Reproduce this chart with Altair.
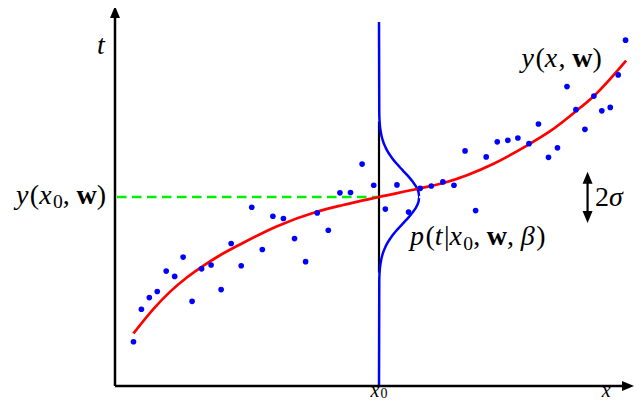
import altair as alt
import pandas as pd

# ---- data ----
pt_x = [0.035, 0.050, 0.065, 0.080, 0.097, 0.113, 0.129, 0.146, 0.164, 0.182,
        0.201, 0.220, 0.239, 0.259, 0.279, 0.299, 0.319, 0.340, 0.361, 0.383,
        0.404, 0.426, 0.446, 0.468, 0.490, 0.512, 0.534, 0.556, 0.578, 0.599,
        0.621, 0.642, 0.663, 0.683, 0.703, 0.724, 0.744, 0.763, 0.784, 0.802,
        0.821, 0.838, 0.856, 0.873, 0.890, 0.907, 0.922, 0.938, 0.953, 0.967]
pt_t = [0.117, 0.203, 0.234, 0.250, 0.304, 0.290, 0.341, 0.224, 0.310, 0.320,
        0.255, 0.377, 0.318, 0.473, 0.361, 0.449, 0.443, 0.390, 0.329, 0.458,
        0.412, 0.511, 0.512, 0.587, 0.531, 0.468, 0.532, 0.460, 0.523, 0.529,
        0.540, 0.531, 0.622, 0.464, 0.606, 0.646, 0.650, 0.656, 0.641, 0.693,
        0.605, 0.630, 0.792, 0.731, 0.679, 0.767, 0.728, 0.737, 0.823, 0.915]

curve_x = [0.035, 0.073, 0.104, 0.136, 0.167, 0.199, 0.243, 0.306, 0.382, 0.432,
           0.500, 0.578, 0.622, 0.717, 0.780, 0.824, 0.873, 0.906, 0.968]
curve_t = [0.139, 0.204, 0.249, 0.287, 0.318, 0.346, 0.379, 0.422, 0.461, 0.479,
           0.500, 0.523, 0.537, 0.588, 0.636, 0.674, 0.727, 0.766, 0.861]

x0 = 0.5
y0 = 0.5
gauss_t = [0.0, 0.28, 0.30, 0.32, 0.335, 0.35, 0.37, 0.38, 0.39, 0.40, 0.41,
           0.42, 0.43, 0.44, 0.45, 0.46, 0.47, 0.48, 0.49, 0.50,
           0.51, 0.52, 0.53, 0.54, 0.55, 0.56, 0.57, 0.58, 0.59, 0.60,
           0.61, 0.62, 0.63, 0.65, 0.665, 0.68, 0.70, 0.72, 0.963]
gauss_w = [0.0, 0.0005, 0.0011, 0.0025, 0.0043, 0.0071, 0.0128, 0.0166, 0.0212,
           0.0264, 0.0323, 0.0387, 0.0453, 0.0520, 0.0584, 0.0642, 0.0691, 0.0729,
           0.0752, 0.0760,
           0.0752, 0.0729, 0.0691, 0.0642, 0.0584, 0.0520, 0.0453, 0.0387, 0.0323,
           0.0264, 0.0212, 0.0166, 0.0128, 0.0071, 0.0043, 0.0025, 0.0011, 0.0005, 0.0]
baseline_t = [0.30, 0.70]

sigma_x = 0.895
sigma_t = [0.447, 0.551]

# axis extents (data units)
x_axis_end = 0.975
x_head_pos = 0.9716
y_axis_end = 0.99
y_head_pos = 0.9894

# labels: pieces of (text, kind); kind i=italic, r=upright, b=bold, s=subscript, g=gap
# each entry: pieces, anchor x, anchor t (baseline), align, font size, subscript drop (px)
labels = [
    ([("t", "i")], -0.0256, 0.878, "center", 28, 4.5),
    ([("y", "i"), ("(", "r"), ("x", "i"), ("0", "s"), (",", "r"), ("", "g"), ("w", "b"), (")", "r")],
     -0.017, 0.4815, "right", 28, 4.5),
    ([("y", "i"), ("(", "r"), ("x", "i"), (",", "r"), ("", "g"), ("w", "b"), (")", "r")],
     0.922, 0.844, "right", 28, 4.5),
    ([("p", "i"), ("(", "r"), ("t", "i"), ("|", "r"), ("x", "i"), ("0", "s"), (",", "r"), ("", "g"),
      ("w", "b"), (",", "r"), ("", "g"), ("β", "i"), (")", "r")],
     0.5587, 0.3717, "left", 28, 4.5),
    ([("2", "r"), ("σ", "i")], 0.909, 0.4749, "left", 28, 4.5),
    ([("x", "i"), ("0", "s")], 0.5, -0.0278, "center", 20, 1.3),
    ([("x", "i")], 0.931, -0.0278, "center", 20, 1.3),
]

# ---- scales ----
PX_X = 528.0
PX_T = 378.0
xs = alt.Scale(domain=[0, 1], range=[107, 635], nice=False, zero=False)
ys = alt.Scale(domain=[0, 1], range=[378, 0], nice=False, zero=False)

def X(f="x"):
    return alt.X(f"{f}:Q", scale=xs, axis=None)

def Y(f="t"):
    return alt.Y(f"{f}:Q", scale=ys, axis=None)

# ---- text layout (Liberation Serif advance widths, em) ----
SUB = 0.7
W_IT = {"t": 0.278, "y": 0.444, "x": 0.444, "p": 0.5, "β": 0.5, "σ": 0.5}
W_RG = {"(": 0.333, ")": 0.333, ",": 0.25, "|": 0.2, "0": 0.5, "2": 0.5}
W_BD = {"w": 0.722}

rows = {"i": [], "r": [], "b": []}
for pieces, ax, at, align, fs, drop in labels:
    widths = []
    for s, k in pieces:
        if k == "i":
            widths.append((W_IT[s] + 0.05) * fs)
        elif k == "r":
            widths.append(W_RG[s] * fs)
        elif k == "s":
            widths.append(W_RG[s] * fs * SUB)
        elif k == "b":
            widths.append(W_BD[s] * fs)
        else:
            widths.append(0.24 * fs)
    total = sum(widths)
    start = {"left": 0.0, "center": -total / 2, "right": -total}[align]
    cur = start
    for (s, k), w in zip(pieces, widths):
        if k != "g":
            group = "r" if k == "s" else k
            dy = drop if k == "s" else 0.0
            size = fs * SUB if k == "s" else fs
            rows[group].append({"x": ax + cur / PX_X, "t": at - dy / PX_T, "s": s, "size": size})
        cur += w

pts = pd.DataFrame({"x": pt_x, "t": pt_t})
curve = pd.DataFrame({"x": curve_x, "t": curve_t})
gauss = pd.DataFrame({"t": gauss_t, "x": [x0 + w for w in gauss_w]})

green = alt.Chart(pd.DataFrame({"x": [0.0], "x2": [x0], "t": [y0]})).mark_rule(
    color="#00f000", strokeWidth=2.6, strokeDash=[9.5, 5.5], strokeDashOffset=-2
).encode(x=X(), x2="x2:Q", y=Y())

black_base = alt.Chart(pd.DataFrame({"x": [x0], "t": [baseline_t[0]], "t2": [baseline_t[1]]})).mark_rule(
    color="black", strokeWidth=2.2
).encode(x=X(), y=Y(), y2="t2:Q")

blue = alt.Chart(gauss).mark_line(color="#0000ff", strokeWidth=2.5, interpolate="monotone").encode(
    x=X(), y=Y(), order=alt.Order("t:Q")
)

red = alt.Chart(curve).mark_line(color="#ff0000", strokeWidth=2.7, interpolate="monotone").encode(
    x=X(), y=Y(), order=alt.Order("x:Q")
)

dots = alt.Chart(pts).mark_circle(color="#0000ff", opacity=1, size=32).encode(x=X(), y=Y())

xaxis = alt.Chart(pd.DataFrame({"x": [0.0], "x2": [x_axis_end], "t": [0.0]})).mark_rule(
    color="black", strokeWidth=2.5
).encode(x=X(), x2="x2:Q", y=Y())
yaxis = alt.Chart(pd.DataFrame({"x": [0.0], "t": [0.0], "t2": [y_axis_end]})).mark_rule(
    color="black", strokeWidth=2.5
).encode(x=X(), y=Y(), y2="t2:Q")

right_head = "M-1,-0.833L1,0L-1,0.833Z"
up_head = "M0,-1L0.833,1L-0.833,1Z"
down_head = "M0,1L0.833,-1L-0.833,-1Z"

def head(xv, tv, shape):
    return alt.Chart(pd.DataFrame({"x": [xv], "t": [tv]})).mark_point(
        shape=shape, filled=True, color="black", opacity=1, size=144, strokeWidth=0
    ).encode(x=X(), y=Y())

xhead = head(x_head_pos, 0.0, right_head)
yhead = head(0.0, y_head_pos, up_head)

sig_shaft = alt.Chart(pd.DataFrame({"x": [sigma_x], "t": [sigma_t[0]], "t2": [sigma_t[1]]})).mark_rule(
    color="black", strokeWidth=2.2
).encode(x=X(), y=Y(), y2="t2:Q")
sig_up = head(sigma_x, sigma_t[1], up_head)
sig_down = head(sigma_x, sigma_t[0], down_head)

font = "Liberation Serif"

def text_layer(group, style, weight):
    return alt.Chart(pd.DataFrame(rows[group])).mark_text(
        font=font, fontStyle=style, fontWeight=weight, color="black",
        align="left", baseline="alphabetic"
    ).encode(x=X(), y=Y(), text="s:N", size=alt.Size("size:Q", scale=None))

t_it = text_layer("i", "italic", "normal")
t_rg = text_layer("r", "normal", "normal")
t_bd = text_layer("b", "normal", "bold")

chart = alt.layer(
    green, black_base, blue, red, dots, xaxis, yaxis, xhead, yhead,
    sig_shaft, sig_up, sig_down, t_it, t_rg, t_bd
).properties(
    width=627, height=393, padding=0, autosize=alt.AutoSizeParams(type="none"),
    background="white"
).configure_view(stroke=None)

chart.save("out.html", embed_options={"renderer": "svg", "actions": False})
